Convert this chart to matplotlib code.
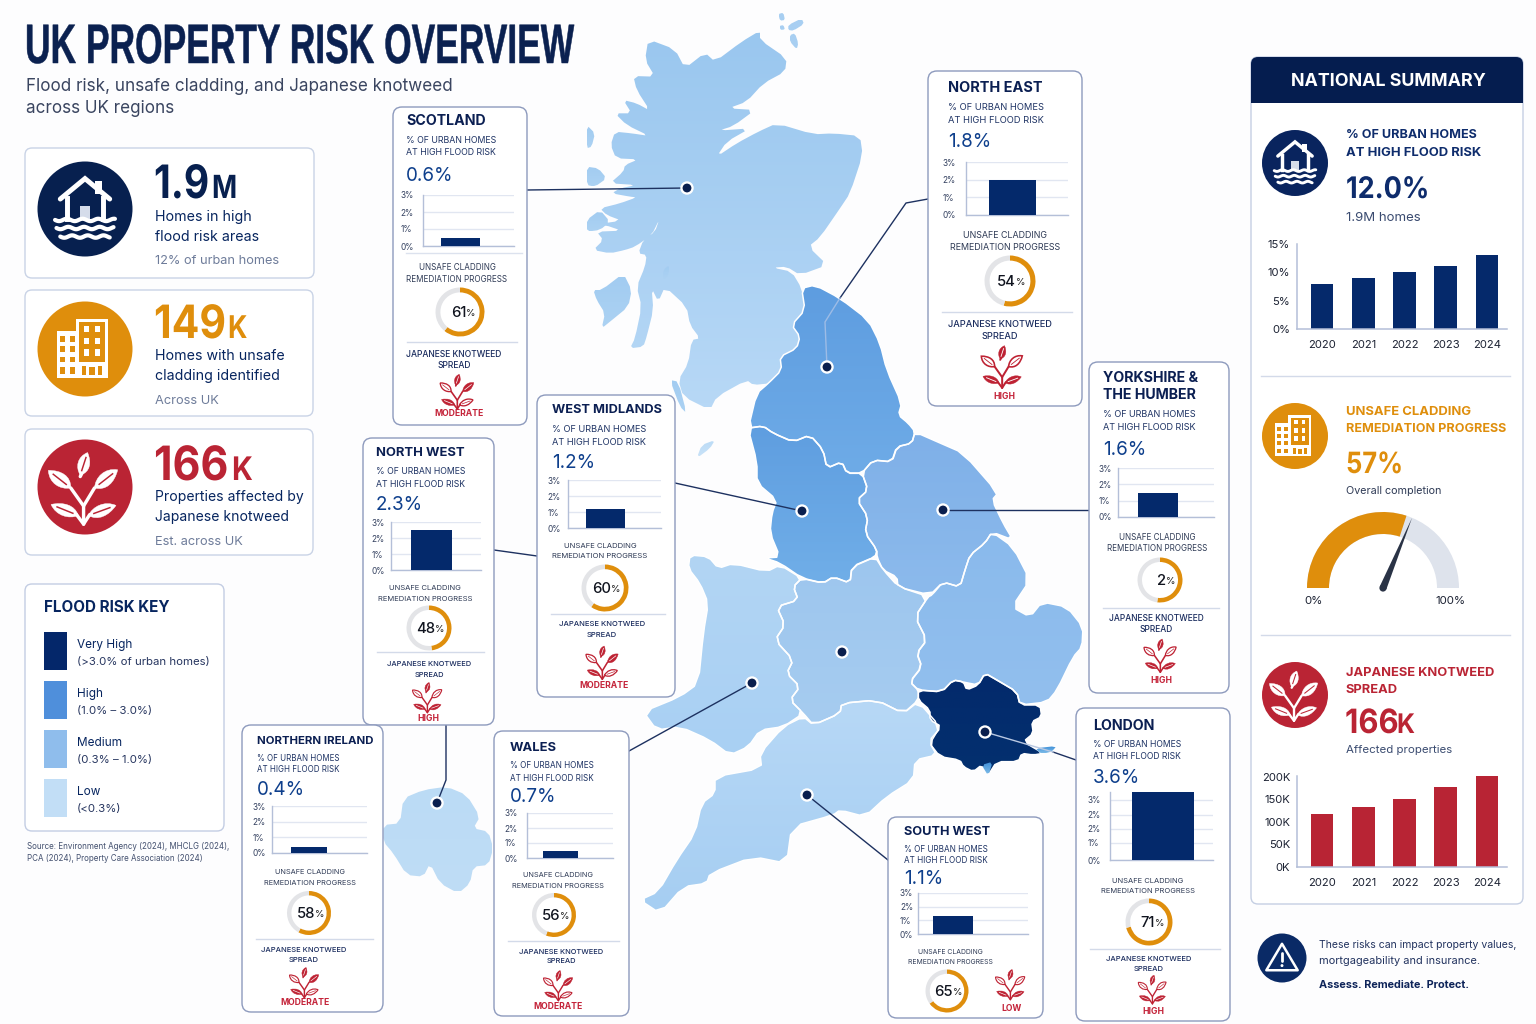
import numpy as np
import matplotlib
matplotlib.use("Agg")
import matplotlib.pyplot as plt
import matplotlib.patheffects as pe
from matplotlib.patches import FancyBboxPatch, Polygon, Circle, Rectangle, Wedge, PathPatch
from matplotlib.path import Path
from matplotlib.transforms import Affine2D
from matplotlib.colors import LinearSegmentedColormap

# ---------- DATA ----------
years = [2020, 2021, 2022, 2023, 2024]
national_flood = [8, 9, 10, 11.1, 13]
national_knotweed = [118, 133, 151, 178, 202]
gauge_fill = 60
gauge_needle = 62.5

regions = ["SCOTLAND", "NORTH EAST", "YORKSHIRE &\nTHE HUMBER", "WEST MIDLANDS", "NORTH WEST",
           "NORTHERN IRELAND", "WALES", "SOUTH WEST", "LONDON"]
flood_labels = ["0.6%", "1.8%", "1.6%", "1.2%", "2.3%", "0.4%", "0.7%", "1.1%", "3.6%"]
flood_bars = [0.45, 2.0, 1.5, 1.2, 2.5, 0.4, 0.45, 1.3, 3.6]
ring_values = [61, 54, 52, 60, 48, 58, 56, 65, 71]
ring_labels = ["61", "54", "2", "60", "48", "58", "56", "65", "71"]
knotweed_levels = ["MODERATE", "HIGH", "HIGH", "MODERATE", "HIGH", "MODERATE", "MODERATE", "LOW", "HIGH"]

legend_names = ["Very High", "High", "Medium", "Low"]
legend_ranges = ["(>3.0% of urban homes)", "(1.0% – 3.0%)", "(0.3% – 1.0%)", "(<0.3%)"]

# Map outlines (zoom-crop coordinates)
scot_east = [(545,865),(515,815),(458,803),(500,800),(540,825),(622,795),(565,740),(600,712),(660,625),(690,580),
             (728,465),(720,408),(640,400),(580,403),(470,370),(415,395),(350,430),(290,470),(320,425),(390,385),
             (295,392),(340,378),(405,330),(325,325),(380,305),(430,250),(495,215),(500,175),(420,120),(420,92),
             (365,125),(285,185),(255,158),(195,205),(165,148),(85,118),(75,180),(105,230),(40,228)]
scot_west = [(140,0),(180,62),(140,40),(100,30),(125,70),(75,70),(110,105),(178,138),(125,130),(75,125),(62,165),
             (78,205),(145,208),(105,225),(100,245),(60,280),(140,285),(90,295),(65,310),(120,320),(140,322),(90,340),
             (30,355),(50,375),(95,392),(5,405),(45,405),(95,422),(20,425),(40,450),(10,480),(60,490),(105,480),
             (135,470),(185,435),(208,388),(195,425),(160,450),(145,490),(170,495),(165,530),(140,590),(155,650),
             (135,745),(120,775),(160,770),(170,740),(190,660),(185,595),(205,635),(225,590),(290,650),(300,705),
             (330,745),(305,750),(295,820),(265,870),(280,920),(360,960),(380,920),(470,870),(490,885),(540,880)]
scot_border = [(445,1150),(485,1110),(480,1070),(530,1045),(540,1010),(515,975),(555,930)]
scot_islands_z8 = [[(10,600),(35,600),(100,550),(125,600),(115,650),(60,695),(35,715),(45,670),(20,630)],
                   [(220,540),(238,525),(235,555),(220,570)],
                   [(240,870),(265,875),(290,970),(270,950)],
                   [(-10,230),(25,235),(50,265),(15,290),(-10,285)],
                   [(-10,105),(15,130),(5,170),(-10,175)],
                   [(-10,390),(30,360),(60,395),(30,420),(-10,425)]]
orkney_z6 = [[(475,42),(490,38),(495,60),(480,62)],[(478,78),(490,75),(495,88),(482,90)],
             [(505,75),(545,55),(552,72),(520,92),(505,90)],[(510,105),(525,100),(535,130),(530,148),(510,125)]]
man_z6 = [[(230,1375),(245,1335),(285,1320),(270,1345)]]

ne_pts = [(545,865),(585,855),(660,895),(745,960),(780,1030),(800,1110),(845,1210),(835,1245),(865,1270),(885,1295),
          (875,1330),(830,1340),(815,1385),(760,1380),(725,1420),(680,1420),(665,1385),(620,1405),(610,1350),
          (570,1305),(520,1325),(460,1300),(430,1278),(385,1285),(410,1180),(445,1150),(485,1110),(480,1070),
          (530,1045),(540,1010),(515,975),(555,930)]
nw_px = [(748,428),(763,426),(773,433),(793,442),(810,435),(823,450),(827,468),(842,462),(847,473),(862,473),(868,490),
         (857,500),(868,517),(865,533),(877,550),(875,557),(852,567),(850,583),(833,577),(823,583),(802,578),(780,563),
         (765,558),(780,557),(770,533),(772,513),(777,500),(757,483),(757,462)]
york_px = [(915,432),(940,443),(963,453),(998,493),(992,500),(1003,523),(1013,540),(992,532),(985,543),(970,555),(965,570),
           (960,587),(943,582),(930,595),(898,587),(897,577),(883,570),(877,557),(877,550),(865,533),(868,517),(857,500),
           (868,490),(862,473),(873,460),(892,462),(897,447),(912,443)]
east_px = [(932,595),(943,582),(960,587),(965,570),(970,555),(985,543),(992,532),(1013,547),(1030,580),(1012,607),(1030,617),
           (1042,602),(1067,607),(1083,627),(1082,647),(1073,657),(1057,690),(1047,702),(1020,705),(1017,692),(997,680),
           (985,673),(978,685),(963,682),(953,680),(942,692),(918,690),(910,682),(922,667),(917,653),(927,640),(915,617),(928,597)]
wm_z7 = [(545,235),(520,260),(535,300),(470,320),(495,375),(465,420),(520,480),(500,520),(540,560),(510,600),(550,640),
         (580,675),(660,640),(665,610),(770,600),(850,640),(895,600),(895,570),(870,545),(905,500),(890,460),(920,420),
         (885,350),(925,290),(835,260),(790,210),(765,170),(695,200),(690,250),(640,230),(610,250)]
wales_z7 = [(210,165),(265,170),(295,205),(340,190),(440,215),(480,195),(545,235),(520,260),(535,300),(470,320),(495,375),
            (465,420),(520,480),(500,520),(540,560),(510,600),(550,640),(490,680),(420,690),(385,740),(330,765),(270,720),
            (180,680),(110,690),(70,635),(180,590),(235,550),(250,400),(265,310),(240,250),(205,205)]
sw_z7 = [(550,650),(580,675),(660,640),(665,610),(770,600),(850,640),(895,605),(960,680),(930,730),(950,765),(885,780),
         (880,840),(800,890),(735,950),(660,930),(640,945),(515,980),(500,1090),(400,1070),(270,1120),(260,1150),(190,1160),
         (120,1240),(60,1200),(115,1175),(170,1080),(225,1000),(245,910),(285,880),(285,830),(425,805),(420,760),(490,680)]
london_z7 = [(895,570),(965,575),(1000,540),(1030,545),(1040,570),(1075,555),(1095,520),(1130,540),(1190,575),(1200,615),
             (1260,615),(1265,650),(1235,665),(1240,700),(1210,725),(1270,760),(1240,765),(1205,760),(1195,785),(1130,785),
             (1105,825),(1085,795),(1060,815),(1030,800),(1020,780),(960,770),(925,725),(965,680),(930,660),(930,630),(895,600)]
london_pale_z7 = [[(1085,795),(1118,785),(1105,828)],[(1245,745),(1310,738),(1295,755),(1265,762)]]
ni_z9 = [(430,315),(480,310),(490,235),(550,210),(620,200),(680,225),(720,290),(700,325),(745,335),(760,385),(745,435),
         (700,440),(690,490),(655,520),(600,490),(570,430),(550,470),(500,465),(460,400),(430,365)]

NAVY = "#07255F"; INK = "#0B2150"; ORANGE = "#DF8E0C"; RED = "#BA2434"; GREY = "#6E7C9A"
FONT = ["Inter", "DejaVu Sans"]
plt.rcParams["font.family"] = FONT

W, H = 1536, 1024
fig = plt.figure(figsize=(W/100, H/100), dpi=100, facecolor="#FDFDFE")
ax = fig.add_axes([0, 0, 1, 1])
ax.axis("off")

def z6(p): return [(620+x/3, y/3) for x, y in p]
def z7(p): return [(620+x/3, 500+y/3) for x, y in p]
def z8(p): return [(590+x/3, 90+y/3) for x, y in p]
def z9(p): return [(240+x/3, 720+y/3) for x, y in p]

def chaikin(pts):
    out = []
    n = len(pts)
    for i in range(n):
        p, q = np.array(pts[i], float), np.array(pts[(i+1) % n], float)
        out.append(tuple(0.78*p+0.22*q)); out.append(tuple(0.22*p+0.78*q))
    return out

def T(x, y, s, size, color=INK, weight="normal", ha="left", va="center", z=12, **kw):
    return ax.text(x, y+size*0.1, s, fontsize=size*0.72, color=color, fontweight=weight, ha=ha, va=va, zorder=z, **kw)

class Stretch(pe.AbstractPathEffect):
    def __init__(self, X, Y, sy, stroke):
        super().__init__()
        self.X, self.Y, self.sy, self.stroke = X, Y, sy, stroke
    def draw_path(self, renderer, gc, tpath, affine, rgbFace=None):
        g = renderer.new_gc(); g.copy_properties(gc)
        g.set_linewidth(self.stroke); g.set_foreground(rgbFace)
        a = affine + Affine2D().translate(-self.X, -self.Y).scale(1, self.sy).translate(self.X, self.Y)
        renderer.draw_path(g, tpath, a, rgbFace)
        g.restore()

def TB(x, base, s, size, sy, color, stroke=0.0):
    t = ax.text(x, base, s, fontsize=size*0.72, color=color, fontweight="bold", ha="left", va="baseline", zorder=12)
    t.set_path_effects([Stretch(x, H-base, sy, stroke)])
    return t

def region(pts, top, bottom, z=2, edge=True):
    pts = chaikin(pts)
    arr = np.array(pts)
    x0, y0 = arr.min(0); x1, y1 = arr.max(0)
    cmap = LinearSegmentedColormap.from_list("r", [top, bottom])
    im = ax.imshow(np.linspace(0, 1, 64).reshape(-1, 1), extent=[x0, x1, y1, y0], aspect="auto",
                   cmap=cmap, interpolation="bilinear", zorder=z)
    poly = Polygon(pts, closed=True, transform=ax.transData, fc="none", ec="none")
    ax.add_patch(poly)
    im.set_clip_path(poly)
    if edge:
        ax.add_patch(Polygon(pts, closed=True, fc="none", ec="#FFFFFF", lw=1.1, zorder=z+1, joinstyle="round"))

# ---------- MAP ----------
scot = z6(scot_east) + z8(scot_west) + z6(scot_border)
region(scot, "#9AC7EF", "#B7D8F6", edge=False)
for isl in scot_islands_z8:
    region(z8(isl), "#A2CCF1", "#ACD2F3", edge=False)
for isl in orkney_z6:
    region(z6(isl), "#A8CFF2", "#A8CFF2", edge=False)
region(z6(man_z6[0]), "#BBDBF6", "#C8E2F8", edge=False)
region(z6(ne_pts), "#5E9DE0", "#6EABE7")
region(nw_px, "#5F9EE0", "#70AEE8")
region(york_px, "#7FB0E8", "#8CBAEC")
region(east_px, "#8ABAEC", "#92BFEE")
region(z7(wm_z7), "#9DC6EE", "#A6CCF0")
region(z7(wales_z7), "#B2D5F4", "#A9D0F3")
region(z7(sw_z7), "#B7D8F6", "#A6CEF2")
region(z7(london_z7), "#032A6C", "#03306F")
for p in london_pale_z7:
    region(z7(p), "#3F8FD8", "#7CBBE8", z=4, edge=False)
region(z9(ni_z9), "#BBDBF5", "#BFDDF6", edge=False)

# ---------- LEADER LINES ----------
LINE = "#1D3160"
leaders = [[(527,190),(687,188)], [(928,199),(906,203),(840,298)], [(1089,510),(943,510)], [(675,483),(802,511)],
           [(494,550),(537,556)], [(629,751),(752,683)], [(888,860),(807,795)], [(1053,752),(1076,760)],
           [(446,725),(446,780),(437,803)]]
for seg in leaders:
    xs, ys = zip(*seg)
    ax.plot(xs, ys, color=LINE, lw=1.0, zorder=6, solid_joinstyle="round")
ax.plot([840,825,827], [298,322,367], color="#9DBCE6", lw=1.0, zorder=6)
ax.plot([985,1053], [732,752], color="#B9C8E2", lw=1.0, zorder=6)

dots = [(687,188),(827,367),(943,510),(802,511),(842,652),(752,683),(807,795),(985,732),(437,803)]
for dx, dy in dots:
    ax.add_patch(Circle((dx, dy), 6.7, fc="white", ec="none", zorder=7))
    ax.add_patch(Circle((dx, dy), 4.4, fc="#0A1F4E", ec="none", zorder=8))

# ---------- ICONS ----------
def circle_icon(cx, cy, r, color):
    ax.add_patch(Circle((cx, cy), r, fc=color, ec="none", zorder=10))

def house(cx, cy, R, color="white", z=11):
    lw = R*0.075
    P = lambda x, y: (cx+x*R, cy+y*R)
    ax.plot(*zip(P(-0.52,-0.21),P(0,-0.64),P(0.52,-0.21)), color=color, lw=lw, zorder=z, solid_capstyle="round", solid_joinstyle="miter")
    ax.add_patch(Rectangle(P(0.2,-0.58), 0.16*R, 0.26*R, fc=color, ec="none", zorder=z))
    ax.plot(*zip(P(-0.38,-0.24),P(-0.38,0.2)), color=color, lw=lw, zorder=z)
    ax.plot(*zip(P(0.38,-0.24),P(0.38,0.2)), color=color, lw=lw, zorder=z)
    ax.add_patch(Rectangle(P(-0.11,-0.07), 0.22*R, 0.28*R, fc="#D5DCEA", ec="none", zorder=z))
    for y, x0, x1 in [(0.23,-0.63,0.63), (0.40,-0.6,0.6), (0.58,-0.52,0.52)]:
        xs = np.linspace(x0, x1, 80)
        ys = y + 0.025*np.sin((xs-x0)*19)
        ax.plot(cx+xs*R, cy+ys*R, color=color, lw=lw*0.85, zorder=z, solid_capstyle="round")

def building(cx, cy, R, bg, z=11):
    P = lambda x, y: (cx+x*R, cy+y*R)
    def rect(x0, y0, x1, y1, c):
        ax.add_patch(Rectangle(P(x0, y0), (x1-x0)*R, (y1-y0)*R, fc=c, ec="none", zorder=z))
    rect(-0.6,-0.38,-0.1,0.6,"white")
    rect(-0.2,-0.63,0.48,0.6,"white")
    rect(-0.12,-0.56,0.42,0.52,bg)
    for xc in (-0.48,-0.27):
        for yc in (-0.21,0.0,0.22,0.44):
            rect(xc-0.055, yc-0.055, xc+0.055, yc+0.055 if yc<0.4 else 0.53, bg)
    for xc in (0.03,0.26):
        for yc in (-0.42,-0.17,0.08):
            rect(xc-0.055, yc-0.07, xc+0.055, yc+0.07, "white")
    rect(-0.12,0.28,0.42,0.6,"white")
    rect(0.08,0.38,0.22,0.54,bg)
    rect(-0.06,0.36,0.02,0.54,bg)
    rect(0.28,0.36,0.36,0.54,bg)

def leaf_path(x0, y0, ang, L, w):
    a = np.radians(ang); ux, uy = np.cos(a), -np.sin(a); vx, vy = -uy, ux
    pt = lambda s, t: (x0+ux*s*L+vx*t*w, y0+uy*s*L+vy*t*w)
    return Path([pt(0,0), pt(0.25,0.6), pt(0.65,0.5), pt(1,0), pt(0.7,-0.6), pt(0.25,-0.5), pt(0,0)],
                [Path.MOVETO, Path.CURVE4, Path.CURVE4, Path.CURVE4, Path.CURVE4, Path.CURVE4, Path.CURVE4])

def plant(cx, cy, s, color, bg, outlined=(), z=11):
    P = lambda x, y: (cx+x*s, cy+y*s)
    lw = max(0.6, s*0.032)
    stems = [[(-0.03,0.78),(-0.03,0.4),(-0.3,0.02)], [(-0.03,0.4),(0.2,0.02)], [(-0.03,0.78),(-0.18,0.58)], [(-0.03,0.78),(0.1,0.58)],
             [(-0.1,-0.22),(-0.06,-0.3)]]
    for st in stems:
        ax.plot(*zip(*[P(*q) for q in st]), color=color, lw=lw*1.6, zorder=z, solid_capstyle="round")
    leaves = [(-0.1,-0.25,72,0.5,0.3), (-0.3,0.02,142,0.6,0.34), (0.2,0.02,38,0.62,0.34), (-0.14,0.6,158,0.62,0.3), (0.07,0.6,20,0.62,0.3)]
    for i, (x, y, a, L, w) in enumerate(leaves):
        x0, y0 = P(x, y)
        pth = leaf_path(x0, y0, a, L*s, w*s)
        if i in outlined:
            ax.add_patch(PathPatch(pth, fc=bg, ec=color, lw=lw*1.3, zorder=z))
        else:
            ax.add_patch(PathPatch(pth, fc=color, ec=color, lw=0.3, zorder=z))
        a_r = np.radians(a)
        ax.plot([x0+np.cos(a_r)*L*s*0.2, x0+np.cos(a_r)*L*s*0.78], [y0-np.sin(a_r)*L*s*0.2, y0-np.sin(a_r)*L*s*0.78],
                color=bg if i not in outlined else color, lw=lw*0.7, zorder=z+0.1)

def warning(cx, cy, R):
    circle_icon(cx, cy, R, "#0A2A66")
    tri = [(cx, cy-0.58*R), (cx+0.64*R, cy+0.5*R), (cx-0.64*R, cy+0.5*R)]
    ax.add_patch(Polygon(tri, closed=True, fc="none", ec="white", lw=1.8, zorder=11, joinstyle="round"))
    ax.plot([cx, cx], [cy-0.22*R, cy+0.14*R], color="white", lw=2.0, zorder=11, solid_capstyle="round")
    ax.add_patch(Circle((cx, cy+0.31*R), 0.06*R, fc="white", ec="none", zorder=11))

def card(x0, y0, x1, y1, ec="#C9D3E6", rad=7, lw=1.0, z=9, fc="white"):
    ax.add_patch(FancyBboxPatch((x0+rad, y0+rad), x1-x0-2*rad, y1-y0-2*rad, boxstyle=f"round,pad={rad},rounding_size={rad}",
                                fc=fc, ec=ec, lw=lw, zorder=z))

def axes_px(x0, y0, x1, y1):
    a = fig.add_axes([x0/W, 1-y1/H, (x1-x0)/W, (y1-y0)/H])
    a.patch.set_alpha(0)
    return a

# ---------- TITLE ----------
title = ax.text(25, 63, "UK PROPERTY RISK OVERVIEW", fontsize=30, fontweight="bold", color=INK, ha="left", va="baseline",
                family=["Liberation Sans Narrow", "Liberation Sans"], zorder=12)
rend = fig.canvas.get_renderer()
wpx = title.get_window_extent(rend).width
fs = 30*548/wpx
title.set_fontsize(fs)
sy = 40/(0.72*fs*100/72)
title.set_path_effects([Stretch(25, H-63, sy, 0.35)])

T(26, 85, "Flood risk, unsafe cladding, and Japanese knotweed", 17.1, "#3A4560")
T(26, 107, "across UK regions", 17.1, "#3A4560")

# ---------- STAT CARDS ----------
card(25,148,314,278); card(25,290,313,416); card(25,429,313,555)
circle_icon(85,209,47.5,"#07204F"); house(85,209,47.5)
circle_icon(85,349,47.5,ORANGE); building(85,349,47.5,ORANGE)
circle_icon(85,487,47.5,RED); plant(85,487,47.5,"white",RED)

TB(154,198,"1.9",39,1.18,"#07204F"); TB(212,198,"M",27,1.18,"#07204F")
T(155,216,"Homes in high",14.2,NAVY); T(155,236,"flood risk areas",14.2,NAVY); T(155,260,"12% of urban homes",12.8,GREY)
TB(154,338,"149",41,1.12,ORANGE); TB(228,338,"K",27,1.16,ORANGE)
T(155,355,"Homes with unsafe",14.2,NAVY); T(155,375,"cladding identified",14.2,NAVY); T(155,400,"Across UK",12.8,GREY)
TB(154,480,"166",43,1.1,RED); TB(232,480,"K",29,1.12,RED)
T(155,496,"Properties affected by",14,NAVY); T(155,516,"Japanese knotweed",14,NAVY); T(155,541,"Est. across UK",12.8,GREY)

# ---------- LEGEND ----------
card(25,584,224,831,ec="#C3CDE3")
T(44,606,"FLOOD RISK KEY",15.2,NAVY,"bold")
swatches = ["#04276A", "#4F8FDB", "#8FBDEC", "#C2DEF6"]
for i, (n, r, c) in enumerate(zip(legend_names, legend_ranges, swatches)):
    y = 632+i*49
    ax.add_patch(Rectangle((44,y),23,38,fc=c,ec="none",zorder=11))
    T(77,y+12,n,11.8,NAVY); T(77,y+29,r,11.4,"#26355F")
T(27,846,"Source: Environment Agency (2024), MHCLG (2024),",8.0,"#43506F")
T(27,858,"PCA (2024), Property Care Association (2024)",8.0,"#43506F")

# ---------- REGION CARDS ----------
layout = [
 dict(box=(393,107,527,425), tx=406, ty=[120], ts=14.2, sw=90, sub=[140,152], val=174, ch=(423,195,514,246), bar=(441,480), sep1=253, un=(457,267,279), uw=100, ring=(460,312,24.5), sep=342, jk=(454,354,365), jw=96, pl=(458,391), ps=23, lv=(459,413)),
 dict(box=(928,71,1082,406), tx=948, ty=[87], ts=14.5, sw=95, sub=[107,120], val=140, ch=(966,162,1068,215), bar=(989,1036), un=(1005,235,247), uw=110, ring=(1010,281,25.5), sep=312, jk=(1000,324,336), jw=104, pl=(1003,366), ps=28, lv=(1004,396)),
 dict(box=(1089,362,1229,693), tx=1103, ty=[377,394], ts=14.2, sw=93, sub=[414,427], val=448, ch=(1118,468,1214,517), bar=(1138,1178), un=(1157,537,548), uw=99, ring=(1160,580,22.5), sep=608, jk=(1156,618,629), jw=95, pl=(1161,655), ps=22, lv=(1161,680)),
 dict(box=(537,395,675,697), tx=552, ty=[409], ts=12.8, sw=94, sub=[429,442], val=461, ch=(568,480,661,528), bar=(586,625), un=(600,545,555), uw=95, ring=(605,588,23.5), sep=614, jk=(602,623,634), jw=86, pl=(603,662), ps=22, lv=(604,685)),
 dict(box=(363,438,494,725), tx=376, ty=[452], ts=13.0, sw=89, sub=[471,484], val=503, ch=(391,522,481,570), bar=(411,452), un=(425,587,598), uw=94, ring=(429,628,22.5), sep=652, jk=(429,663,674), jw=84, pl=(428,697), ps=20, lv=(428,718)),
 dict(box=(242,725,383,1012), tx=257, ty=[740], ts=11.4, sw=81, sub=[758,769], val=788, ch=(272,806,367,853), bar=(291,327), un=(310,871,882), uw=91, ring=(309,913,22), sep=939, jk=(304,949,959), jw=85, pl=(305,982), ps=20, lv=(305,1002)),
 dict(box=(494,731,629,1016), tx=510, ty=[747], ts=13.0, sw=83, sub=[765,778], val=795, ch=(527,813,613,858), bar=(543,578), un=(558,874,885), uw=91, ring=(554,915,22), sep=941, jk=(561,951,960), jw=84, pl=(559,985), ps=20, lv=(558,1006)),
 dict(box=(888,817,1043,1018), tx=904, ty=[831], ts=12.7, sw=83, sub=[849,860], val=877, ch=(918,893,1028,934), bar=(933,973), un=(950,951,961), uw=84, ring=(947,991,21.5), sep=None, jk=None, jw=84, pl=(1011,984), ps=20, lv=(1011,1008)),
 dict(box=(1076,708,1230,1021), tx=1093, ty=[725], ts=14.2, sw=88, sub=[744,756], val=776, ch=(1110,792,1213,860), bar=(1132,1194), un=(1148,880,890), uw=93, ring=(1149,922,23.5), sep=949, jk=(1149,958,968), jw=85, pl=(1153,989), ps=19, lv=(1153,1011)),
]

for i, L in enumerate(layout):
    x0,y0,x1,y1 = L["box"]
    card(x0,y0,x1,y1,ec="#8D9ABD",rad=9)
    for ty, line in zip(L["ty"], regions[i].split("\n")):
        T(L["tx"],ty,line,L["ts"],"#0B1F52","bold")
    ss = 9.2*L["sw"]/94
    T(L["tx"],L["sub"][0],"% OF URBAN HOMES",ss,"#1E3364")
    T(L["tx"],L["sub"][1],"AT HIGH FLOOD RISK",ss,"#1E3364")
    T(L["tx"],L["val"],flood_labels[i],18.8,"#0E3F8C")
    cx0,cy0,cx1,cy1 = L["ch"]
    a = axes_px(cx0,cy0,cx1,cy1)
    a.set_xlim(cx0,cx1)
    if regions[i] == "LONDON":
        a.set_ylim(0,3.6); ticks=[0,0.9,1.65,2.4,3.2]; tl=["0%","1%","2%","2%","3%"]
    else:
        a.set_ylim(0,3.0); ticks=[0,1,2,3]; tl=["0%","1%","2%","3%"]
    a.bar([(L["bar"][0]+L["bar"][1])/2],[flood_bars[i]],width=L["bar"][1]-L["bar"][0],color="#04296B",zorder=3)
    a.set_yticks(ticks); a.set_yticklabels(tl,fontsize=6.0,color="#33405F",ha="left")
    a.tick_params(axis="y",length=0,pad=cx0-L["tx"]-1); a.set_xticks([])
    a.grid(axis="y",color="#E1E6F1",lw=1.0,zorder=0); a.set_axisbelow(True)
    for s in ("top","right"): a.spines[s].set_visible(False)
    for s in ("left","bottom"):
        a.spines[s].set_color("#B4BFD8"); a.spines[s].set_linewidth(1.0)
    if L.get("sep1"):
        ax.plot([x0+13,x1-5],[L["sep1"]]*2,color="#DCE2EE",lw=1,zorder=11)
    ucx,uy1,uy2 = L["un"]
    us = 8.6*L["uw"]/106
    T(ucx,uy1,"UNSAFE CLADDING",us,"#2E3A55",ha="center"); T(ucx,uy2,"REMEDIATION PROGRESS",us,"#2E3A55",ha="center")
    rx,ry,rr = L["ring"]
    a2 = axes_px(rx-rr,ry-rr,rx+rr,ry+rr)
    a2.pie([ring_values[i],100-ring_values[i]],colors=[ORANGE,"#E3E4E7"],startangle=90,counterclock=False,radius=1,
           wedgeprops=dict(width=0.2,linewidth=0))
    a2.set_xlim(-1,1); a2.set_ylim(-1,1)
    T(rx+6,ry,ring_labels[i],14.8,"#10141F","medium",ha="right",z=20); T(rx+6,ry+1,"%",9.5,"#222","medium",z=20)
    if L["sep"]:
        ax.plot([x0+14,x1-10],[L["sep"]]*2,color="#D3DAE9",lw=1,zorder=11)
    if L["jk"]:
        jx,jy1,jy2 = L["jk"]
        js = 8.8*L["jw"]/99
        T(jx,jy1,"JAPANESE KNOTWEED",js,"#1A2C5E","medium",ha="center"); T(jx,jy2,"SPREAD",js,"#1A2C5E","medium",ha="center")
    px,py = L["pl"]
    plant(px,py,L["ps"],"#BE2233","white",outlined=(1,4) if knotweed_levels[i]=="MODERATE" else (1,2),z=12)
    T(L["lv"][0],L["lv"][1],knotweed_levels[i],8.6,"#C4243A","bold",ha="center",z=14)

# ---------- NATIONAL SUMMARY ----------
card(1251,57,1523,904,ec="#C5CFE3",rad=7)
hp = FancyBboxPatch((1258,64),258,32,boxstyle="round,pad=7,rounding_size=7",fc="#051D4F",ec="none",zorder=10)
ax.add_patch(hp)
ax.add_patch(Rectangle((1251,85),272,17.5,fc="#051D4F",ec="none",zorder=10))
T(1388,80,"NATIONAL SUMMARY",17.9,"white","bold",ha="center")

circle_icon(1295,163,33,"#09245E"); house(1295,163,33)
T(1346,134,"% OF URBAN HOMES",12.6,"#0E2C6C","bold"); T(1346,152,"AT HIGH FLOOD RISK",13,"#0E2C6C","bold")
TB(1346,198,"12.0%",27,1.1,"#0E2C6C"); T(1346,217,"1.9M homes",13.2,"#3A4B70")

def nat_chart(x0,y0,x1,y1,vals,ymax,ticks,labels,color,ylab):
    a = axes_px(x0,y0,x1,y1)
    xs = np.arange(len(vals))
    a.bar(xs,vals,width=0.55,color=color)
    a.set_xlim((x0-1322)/41.25,(x1-1322)/41.25); a.set_ylim(0,ymax)
    a.set_xticks(xs); a.set_xticklabels([str(v) for v in years],fontsize=8.1,color="#1C2233")
    a.set_yticks(ticks); a.set_yticklabels(labels,fontsize=8.1,color="#1C2233")
    a.tick_params(length=0,pad=ylab)
    a.tick_params(axis="x",pad=8)
    for s in ("top","right"): a.spines[s].set_visible(False)
    for s in ("left","bottom"):
        a.spines[s].set_color("#B4BFD8"); a.spines[s].set_linewidth(1.1)
nat_chart(1297,244,1507,329,national_flood,15,[0,5,10,15],["0%","5%","10%","15%"],"#05296B",5)

ax.plot([1261,1510],[376,376],color="#D3DAE9",lw=1,zorder=11)
circle_icon(1295,436,33,ORANGE); building(1295,436,33,ORANGE)
T(1346,411,"UNSAFE CLADDING",13,ORANGE,"bold"); T(1346,428,"REMEDIATION PROGRESS",12.6,ORANGE,"bold")
TB(1346,473,"57%",25.5,1.15,ORANGE); T(1346,490,"Overall completion",10.8,"#2E3A55")

g = axes_px(1303,508,1463,592)
g.axis("off")
g.set_ylim(-4,80); g.set_xlim(-80,80)
ang = 180-gauge_fill*1.8
g.add_patch(Wedge((0,0),76,0,180,width=22,fc="#DEE3EC",ec="none"))
g.add_patch(Wedge((0,0),76,ang,180,width=22,fc=ORANGE,ec="none"))
na = np.radians(180-gauge_needle*1.8)
tip = 76*np.array([np.cos(na),np.sin(na)])
nrm = np.array([-np.sin(na),np.cos(na)])*3.6
g.add_patch(Polygon([tuple(tip),tuple(nrm),tuple(-nrm)],closed=True,fc="#2A3346",ec="none",zorder=5))
g.add_patch(Circle((0,0),3.6,fc="#2A3346",ec="none",zorder=5))
T(1314,600,"0%",11.5,"#1C2233",ha="center"); T(1450,600,"100%",11.5,"#1C2233",ha="center")

ax.plot([1261,1510],[635,635],color="#D3DAE9",lw=1,zorder=11)
circle_icon(1295,695,33,RED); plant(1295,695,33,"white",RED)
T(1346,672,"JAPANESE KNOTWEED",12.9,RED,"bold"); T(1346,689,"SPREAD",12.9,RED,"bold")
TB(1345,733,"166",31,1.08,RED); TB(1397,733,"K",25,1.08,RED)
T(1346,749,"Affected properties",11.5,"#3A4B70")
nat_chart(1297,776,1507,867,national_knotweed,202,[0,50,100,150,200],["0K","50K","100K","150K","200K"],"#B82434",5)

warning(1282,958,24.5)
T(1319,944,"These risks can impact property values,",10.5,"#22335F")
T(1319,960,"mortgageability and insurance.",11.0,"#22335F")
T(1319,984,"Assess. Remediate. Protect.",10.9,"#0E2459","bold")

ax.set_xlim(0,W); ax.set_ylim(H,0)
fig.savefig("out.png",dpi=100,facecolor=fig.get_facecolor())
